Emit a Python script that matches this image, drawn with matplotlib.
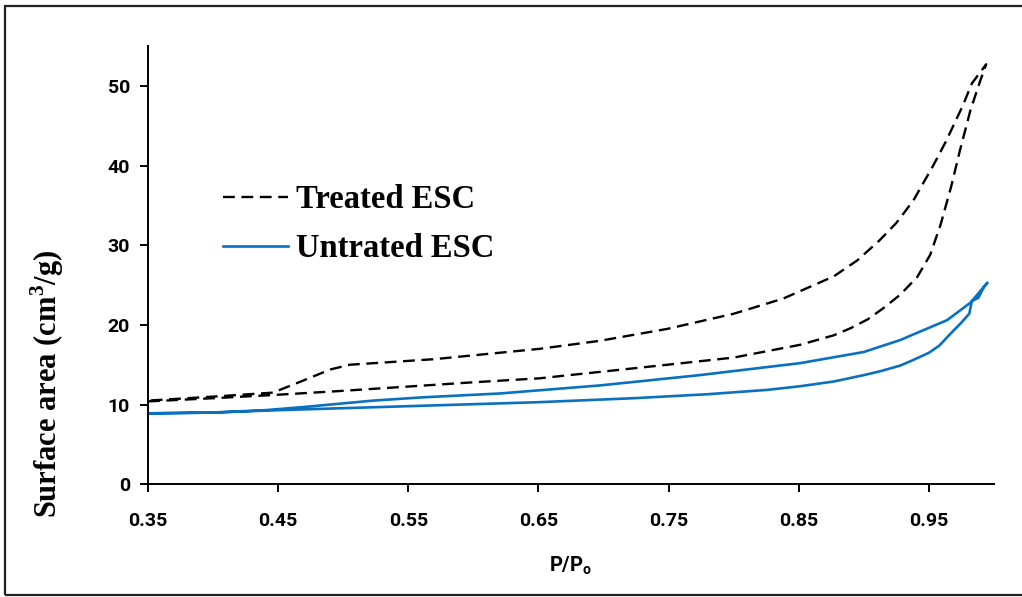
import matplotlib
matplotlib.use("Agg")
import matplotlib.pyplot as plt
from matplotlib.patches import Rectangle

# Treated ESC: adsorption branch (rising P/Po)
treated_ads_x = [0.350, 0.400, 0.446, 0.497, 0.544, 0.600, 0.651, 0.697, 0.749, 0.800,
                 0.851, 0.877, 0.890, 0.903, 0.915, 0.928, 0.941, 0.951, 0.959, 0.967,
                 0.974, 0.982, 0.990, 0.994]
treated_ads_y = [10.4, 10.8, 11.2, 11.7, 12.2, 12.8, 13.3, 14.1, 15.0, 15.9,
                 17.5, 18.7, 19.6, 20.7, 22.1, 23.8, 26.0, 28.8, 32.6, 37.3,
                 42.0, 47.0, 50.9, 52.7]
# Treated ESC: desorption branch (falling P/Po)
treated_des_x = [0.994, 0.983, 0.976, 0.963, 0.953, 0.938, 0.925, 0.912, 0.895, 0.877,
                 0.838, 0.800, 0.749, 0.697, 0.651, 0.570, 0.505, 0.490, 0.466, 0.446,
                 0.400, 0.350]
treated_des_y = [52.7, 50.3, 47.5, 43.0, 39.9, 35.6, 32.8, 30.6, 28.1, 26.1,
                 23.3, 21.4, 19.5, 18.0, 17.0, 15.7, 15.0, 14.4, 12.8, 11.5,
                 11.0, 10.5]

# Untreated ESC: adsorption branch
untreated_ads_x = [0.350, 0.400, 0.450, 0.550, 0.650, 0.723, 0.780, 0.826, 0.851, 0.877,
                   0.900, 0.913, 0.928, 0.938, 0.950, 0.958, 0.966, 0.975, 0.981, 0.983,
                   0.988, 0.992, 0.995]
untreated_ads_y = [8.9, 9.0, 9.3, 9.8, 10.3, 10.8, 11.3, 11.85, 12.3, 12.9,
                   13.7, 14.2, 14.9, 15.6, 16.5, 17.4, 18.8, 20.3, 21.4, 23.0,
                   23.4, 24.7, 25.3]
# Untreated ESC: desorption branch
untreated_des_x = [0.995, 0.982, 0.964, 0.938, 0.928, 0.913, 0.900, 0.851, 0.774, 0.697,
                   0.651, 0.621, 0.560, 0.523, 0.470, 0.440, 0.400, 0.350]
untreated_des_y = [25.3, 22.8, 20.6, 18.8, 18.1, 17.3, 16.6, 15.2, 13.7, 12.4,
                   11.8, 11.4, 10.9, 10.5, 9.7, 9.3, 9.0, 8.9]

x_ticks = [0.35, 0.45, 0.55, 0.65, 0.75, 0.85, 0.95]
y_ticks = [0, 10, 20, 30, 40, 50]

fig = plt.figure(figsize=(10.22, 5.97), dpi=100)
ax = fig.add_axes([0.1448, 0.1888, 0.9726 - 0.1448, 0.923 - 0.1888])

ax.plot(treated_ads_x + treated_des_x, treated_ads_y + treated_des_y,
        color="black", lw=1.7, dashes=(5.0, 2.8), label="Treated ESC")
ax.plot(untreated_ads_x + untreated_des_x, untreated_ads_y + untreated_des_y,
        color="#0a70c0", lw=1.9, label="Untrated ESC")

ax.set_xlim(0.35, 1.0)
ax.set_ylim(0, 55)
ax.set_xticks(x_ticks)
ax.set_xticklabels([f"{v:.2f}" for v in x_ticks])
ax.set_yticks(y_ticks)

for side in ("top", "right"):
    ax.spines[side].set_visible(False)
for side in ("left", "bottom"):
    ax.spines[side].set_linewidth(1.4)
ax.tick_params(direction="out", length=6, width=1.4, labelsize=14, pad=7)
ax.tick_params(axis="x", pad=14)
for lab in ax.get_xticklabels() + ax.get_yticklabels():
    lab.set_fontfamily("Roboto")
    lab.set_fontweight("bold")

ax.set_xlabel(r"P/P$_\mathregular{o}$", fontfamily="Roboto", fontweight="bold",
              fontsize=14.5, labelpad=18)
ax.set_ylabel(r"Surface area (cm$^\mathregular{3}$/g)", fontfamily="Liberation Serif",
              fontweight="bold", fontsize=22)
ax.yaxis.set_label_coords(-0.097, 0.23)

leg = ax.legend(loc="upper left", bbox_to_anchor=(0.054, 0.751), frameon=False,
                prop={"family": "Liberation Serif", "weight": "bold", "size": 23.5},
                handlelength=2.0, handletextpad=0.25, labelspacing=0.55)

# outer frame around the figure
fig.patches.append(Rectangle((5 / 1022, 2 / 597), 1.2, (595 - 6) / 597,
                             transform=fig.transFigure, fill=False,
                             edgecolor="#222222", lw=1.6))

fig.savefig("out.png", dpi=100)
